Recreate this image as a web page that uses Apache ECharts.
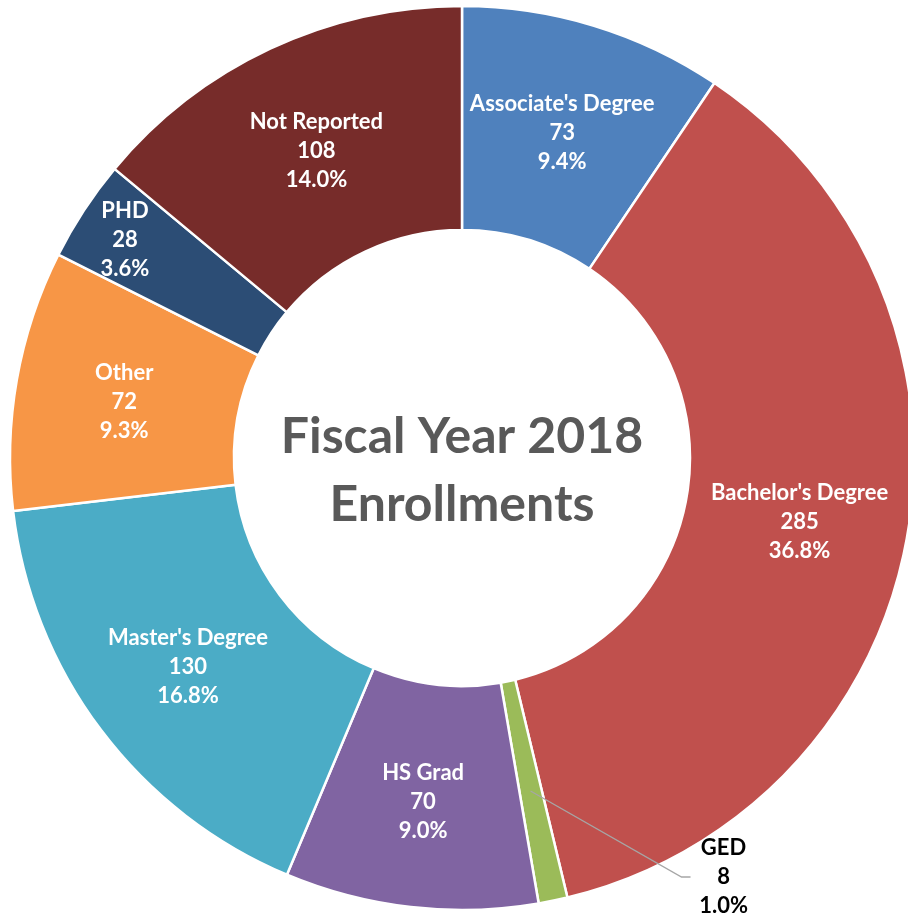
<!DOCTYPE html>
<html>
<head>
<meta charset="utf-8">
<script src="https://cdn.jsdelivr.net/npm/echarts@6/dist/echarts.min.js"></script>
<style>
  html, body { margin: 0; padding: 0; background: #ffffff; }
  #chart { width: 908px; height: 923px; }
</style>
</head>
<body>
<div id="chart"></div>
<script>
// ---- data ----
const categories = ["Associate's Degree", "Bachelor's Degree", "GED", "HS Grad", "Master's Degree", "Other", "PHD", "Not Reported"];
const enrollments = [73, 285, 8, 70, 130, 72, 28, 108];
const colors = ['#4F81BD', '#C0504D', '#9BBB59', '#8064A2', '#4BACC6', '#F79646', '#2C4D75', '#772C2A'];
const titleLines = ['Fiscal Year 2018', 'Enrollments'];

const total = enrollments.reduce((a, b) => a + b, 0);
const CX = 462, CY = 458, R_IN = 228, R_OUT = 452;
const FONT = 'Lato, "Open Sans", sans-serif';

function midAngle(idx) {
  let before = 0;
  for (let i = 0; i < idx; i++) before += enrollments[i];
  return (before + enrollments[idx] / 2) / total * 2 * Math.PI;
}

// GED leader line geometry (derived from slice mid-angle)
const gedIdx = categories.indexOf('GED');
const gA = midAngle(gedIdx);
const RM = (R_IN + R_OUT) / 2;
const gsx = CX + Math.sin(gA) * RM, gsy = CY - Math.cos(gA) * RM;
const gex = gsx + 151, gey = gsy + 86;

const data = categories.map((name, i) => {
  const item = { name: name, value: enrollments[i], itemStyle: { color: colors[i] } };
  if (name === 'GED') {
    item.label = { position: 'outside', color: '#000000' };
  }
  return item;
});

const chart = echarts.init(document.getElementById('chart'), null, { renderer: 'canvas' });

chart.setOption({
  animation: false,
  backgroundColor: '#ffffff',
  graphic: [{
    type: 'text',
    x: CX, y: CY + 13,
    style: {
      text: titleLines.join('\n'),
      align: 'center', verticalAlign: 'middle',
      font: 'bold 50px ' + FONT,
      lineHeight: 68,
      fill: '#595959'
    }
  }, {
    type: 'polyline',
    z: 100,
    shape: { points: [[gsx, gsy], [gex, gey], [gex + 9, gey]] },
    style: { stroke: '#A6A6A6', lineWidth: 1.3, fill: null }
  }],
  series: [{
    type: 'pie',
    center: [CX, CY],
    radius: [R_IN, R_OUT],
    startAngle: 90,
    clockwise: true,
    avoidLabelOverlap: false,
    itemStyle: { borderColor: '#ffffff', borderWidth: 2.5 },
    label: {
      show: true,
      position: 'inside',
      color: '#ffffff',
      fontFamily: FONT,
      fontWeight: 'bold',
      fontSize: 22,
      lineHeight: 29,
      formatter: p => p.name + '\n' + p.value + '\n' + (p.value / total * 100).toFixed(1) + '%'
    },
    labelLine: { show: false },
    labelLayout: function (params) {
      const idx = params.dataIndex;
      const name = categories[idx];
      const a = midAngle(idx);
      const ux = Math.sin(a), uy = -Math.cos(a);
      if (name === 'GED') {
        return { x: gex + 42, y: gey, align: 'center', verticalAlign: 'middle' };
      }
      if (name === 'PHD') return { dx: ux * 60, dy: uy * 60 + 3 };
      return { dy: 3 };
    },
    data: data
  }]
});
</script>
</body>
</html>
